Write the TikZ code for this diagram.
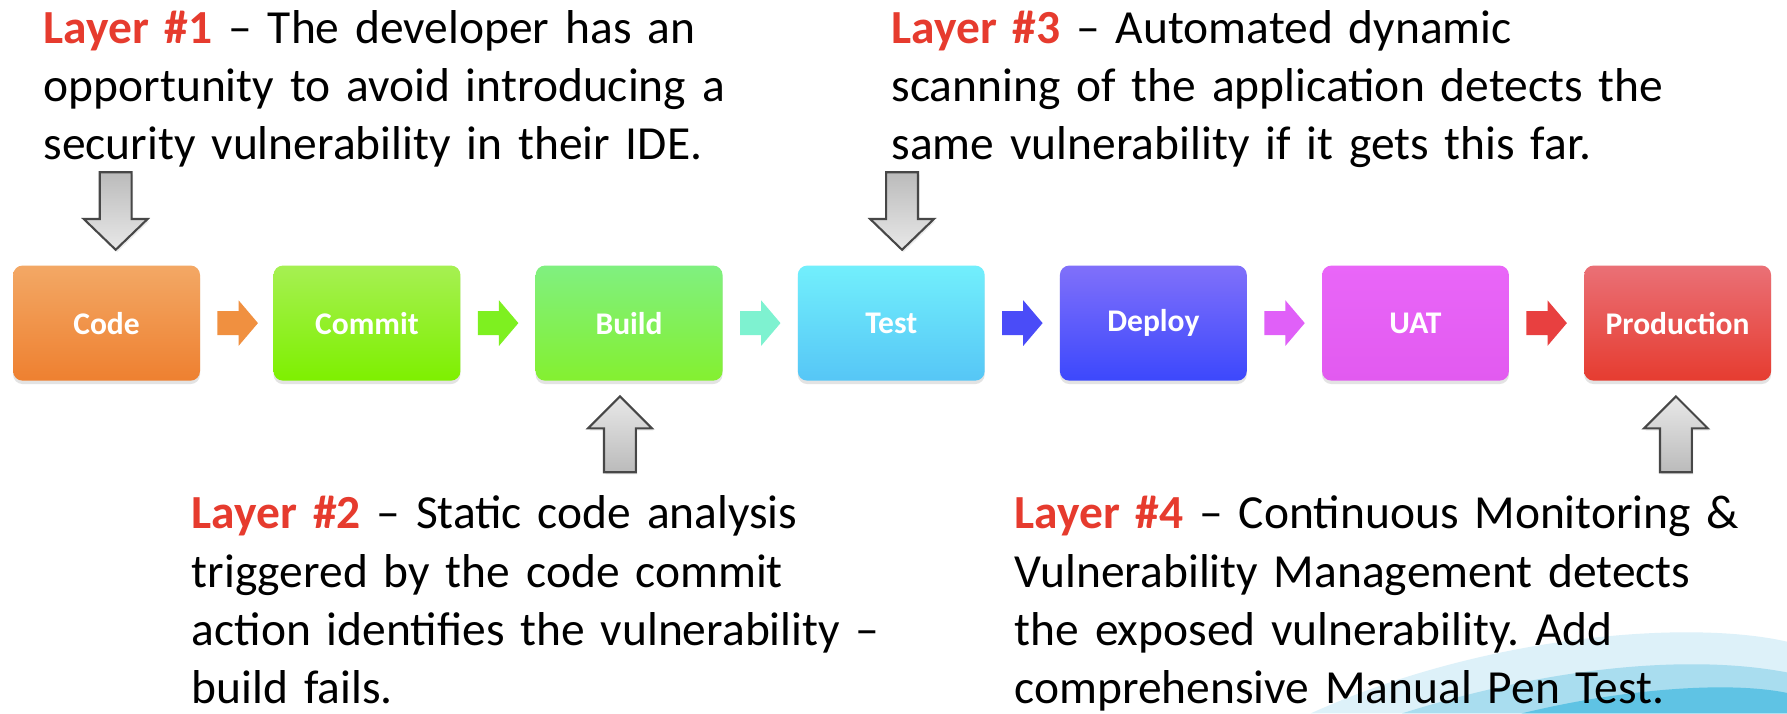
\documentclass[tikz,border=0pt]{standalone}
\usepackage{fontspec}
\setmainfont{Carlito}
\usetikzlibrary{calc,shadows}
\frenchspacing

\definecolor{layerred}{HTML}{E63B2E}
\definecolor{codeT}{HTML}{F3A865}\definecolor{codeB}{HTML}{EE8030}
\definecolor{commitT}{HTML}{A6F052}\definecolor{commitB}{HTML}{7EF000}
\definecolor{buildT}{HTML}{80F080}\definecolor{buildB}{HTML}{84F030}
\definecolor{testT}{HTML}{72EFFC}\definecolor{testB}{HTML}{56C6F6}
\definecolor{deployT}{HTML}{8070FA}\definecolor{deployB}{HTML}{3C48FC}
\definecolor{uatT}{HTML}{E966F8}\definecolor{uatB}{HTML}{E25AF0}
\definecolor{prodT}{HTML}{EA7076}\definecolor{prodB}{HTML}{E63C30}
\definecolor{hopOrange}{HTML}{F09040}
\definecolor{hopGreen}{HTML}{7EF020}
\definecolor{hopMint}{HTML}{7EF2D0}
\definecolor{hopBlue}{HTML}{4A4CF8}
\definecolor{hopMagenta}{HTML}{E060F8}
\definecolor{hopRed}{HTML}{E84040}
\definecolor{greyDark}{HTML}{BBBBBB}
\definecolor{greyLight}{HTML}{E8E8E8}
\definecolor{waveA}{HTML}{DDF1F9}
\definecolor{waveB}{HTML}{A9DDEF}
\definecolor{waveC}{HTML}{5FC3E4}

% block arrow between two stages
\newcommand{\hoparrow}[2]{%
  \fill[#2] ($(#1.east)+(15,-10.5)$) -- ++(18.5,0) -- ++(0,-9.5) -- ++(17,20)
    -- ++(-17,20) -- ++(0,-9.5) -- ++(-18.5,0) -- cycle;}
% grey callout arrow pointing down onto a stage (tip at given point)
\newcommand{\calloutdown}[1]{%
  \draw[callout, top color=greyDark, bottom color=greyLight] (#1) -- ++(-28,-27) -- ++(14,0) -- ++(0,-41)
    -- ++(28,0) -- ++(0,41) -- ++(14,0) -- cycle;}
% grey callout arrow pointing up onto a stage (tip at given point)
\newcommand{\calloutup}[1]{%
  \draw[callout, top color=greyLight, bottom color=greyDark] (#1) -- ++(-28,28) -- ++(14,0) -- ++(0,38.5)
    -- ++(28,0) -- ++(0,-38.5) -- ++(14,0) -- cycle;}

\begin{document}
\begin{tikzpicture}[x=0.6pt,y=-0.6pt,
  stage/.style={rounded corners=5pt, minimum width=98.4pt, minimum height=60.6pt,
    inner sep=0pt, text=white, font=\fontsize{16.6}{19}\selectfont\bfseries,
    drop shadow={shadow xshift=0pt, shadow yshift=-1.8pt, opacity=0.22}},
  note/.style={anchor=base west, inner sep=0pt, text width=430pt, align=left,
    font=\fontsize{25}{30.7}\selectfont, text=black},
  callout/.style={draw=black!72, line width=1.1pt, line join=miter,
    drop shadow={shadow xshift=0.8pt, shadow yshift=-1.2pt, opacity=0.15}}
]
\useasboundingbox (0,0) rectangle (1568,626);
\fill[white] (0,0) rectangle (1568,626);

% decorative wave in the lower right corner
\begin{scope}
\clip (0,0) rectangle (1568,626);
\fill[waveA] (1150,626) .. controls (1300,558) and (1480,543) .. (1568,563) -- (1568,626) -- cycle;
\fill[waveB] (1230,626) .. controls (1370,582) and (1490,575) .. (1568,590) -- (1568,626) -- cycle;
\fill[waveC] (1335,626) .. controls (1430,603) and (1520,598) .. (1568,608) -- (1568,626) -- cycle;
\end{scope}

% pipeline stages
\node[stage, top color=codeT, bottom color=codeB] (code) at (93.5,283.5) {Code};
\node[stage, top color=commitT, bottom color=commitB] (commit) at (322,283.5) {Commit};
\node[stage, top color=buildT, bottom color=buildB] (build) at (552,283.5) {Build};
\node[stage, top color=testT, bottom color=testB] (test) at (782,283.5) {Test};
\node[stage, top color=deployT, bottom color=deployB] (deploy) at (1012,283.5) {Deploy};
\node[stage, top color=uatT, bottom color=uatB] (uat) at (1242,283.5) {UAT};
\node[stage, top color=prodT, bottom color=prodB] (prod) at (1472,283.5) {Production};

% flow between stages
\hoparrow{code}{hopOrange}
\hoparrow{commit}{hopGreen}
\hoparrow{build}{hopMint}
\hoparrow{test}{hopBlue}
\hoparrow{deploy}{hopMagenta}
\hoparrow{uat}{hopRed}

% security layers
\coordinate (t1) at ($(code.north)+(8,-13.5)$);
\coordinate (t3) at ($(test.north)+(9.5,-13.5)$);
\coordinate (t2) at ($(build.south)+(-8,13.5)$);
\coordinate (t4) at ($(prod.south)+(-1.5,13.5)$);
\calloutdown{t1}
\calloutdown{t3}
\calloutup{t2}
\calloutup{t4}

\node[note] (l1) at (38,38) {\textcolor{layerred}{\bfseries Layer \#1} – The developer has an\\
opportunity to avoid introducing a\\
security vulnerability in their IDE.};
\node[note] (l3) at (782,38) {\textcolor{layerred}{\bfseries Layer \#3} – Automated dynamic\\
scanning of the application detects the\\
same vulnerability if it gets this far.};
\node[note] (l2) at (168,464) {\textcolor{layerred}{\bfseries Layer \#2} – Static code analysis\\
triggered by the code commit\\
action identifies the vulnerability –\\
build fails.};
\node[note] (l4) at (890,464) {\textcolor{layerred}{\bfseries Layer \#4} – Continuous Monitoring \&\\
Vulnerability Management detects\\
the exposed vulnerability. Add\\
comprehensive Manual Pen Test.};
\end{tikzpicture}
\end{document}
